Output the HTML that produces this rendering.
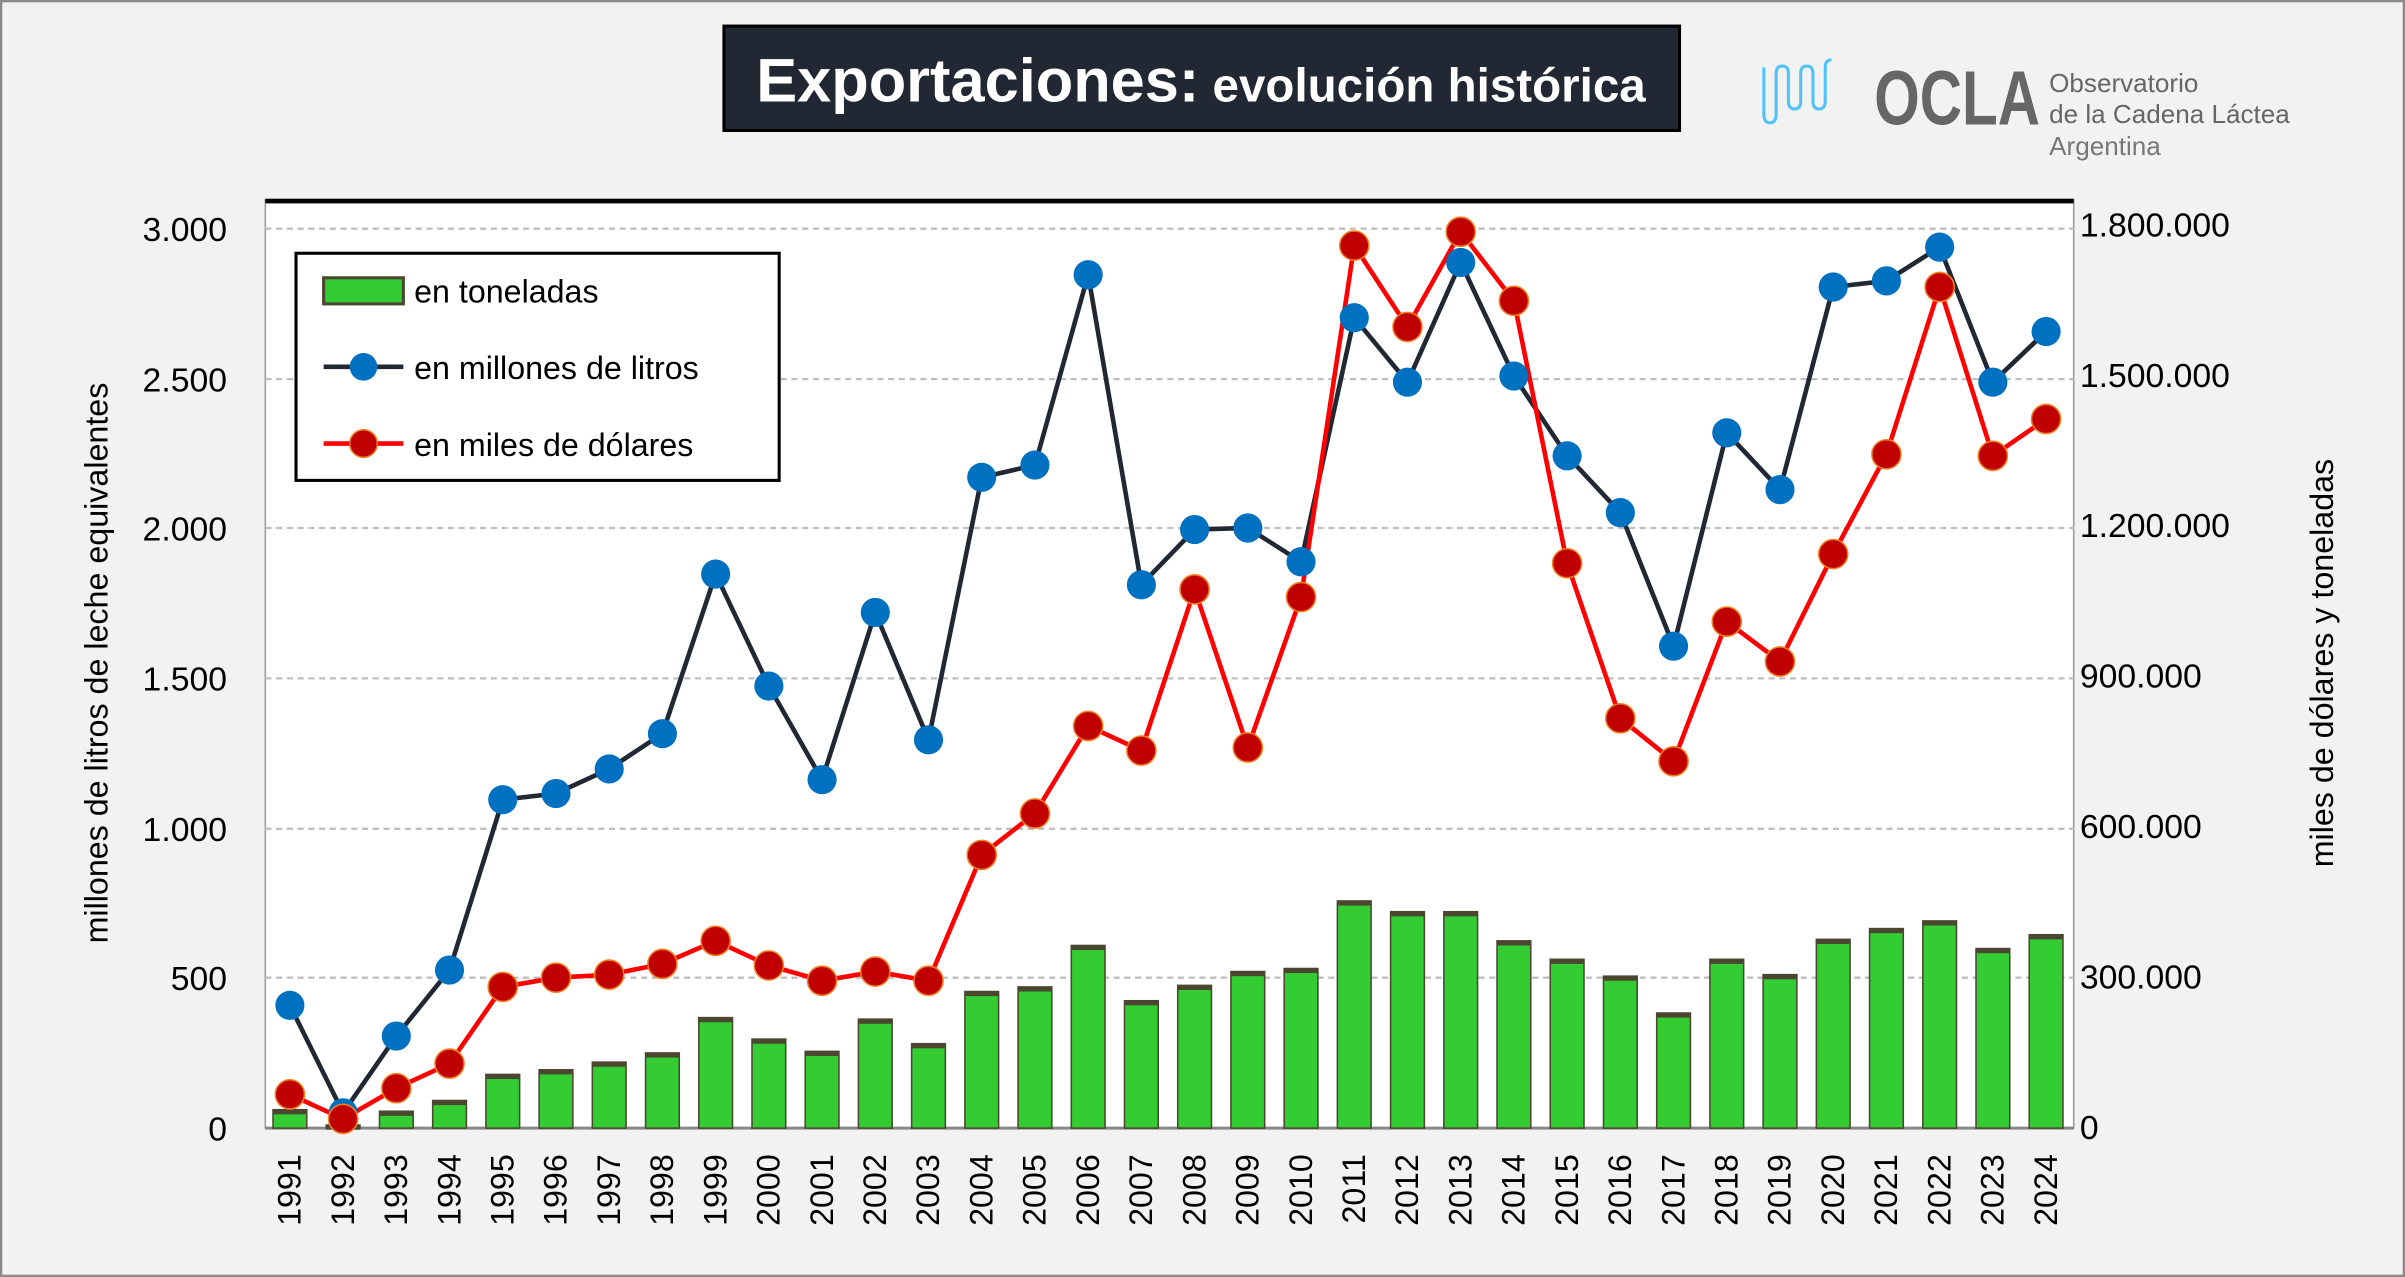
<!DOCTYPE html>
<html><head><meta charset="utf-8"><style>
html,body{margin:0;padding:0;background:#f2f2f2;}
svg{display:block;font-family:"Liberation Sans",sans-serif;}
</style></head><body>
<svg width="2405" height="1277" viewBox="0 0 1568 832" preserveAspectRatio="none" xmlns="http://www.w3.org/2000/svg">
<rect x="0.5" y="0.5" width="1567" height="831" fill="#f2f2f2" stroke="#8a8a8a" stroke-width="2"/>
<!-- title -->
<rect x="472" y="17" width="623" height="68" fill="#222833" stroke="#000" stroke-width="2"/>
<text x="783" y="66" text-anchor="middle" fill="#fff" font-weight="bold"><tspan font-size="40">Exportaciones:</tspan><tspan font-size="31"> evolución histórica</tspan></text>
<!-- logo -->
<g fill="none" stroke="#4fc3f7" stroke-width="2">
<path d="M1150 44 v30 q0 6 4 6 q4 0 4-6 v-26 q0-5 4-5 q4 0 4 5 v18 q0 5 4 5 q4 0 4-5 v-18 q0-5 4-5 q4 0 4 5 v18 q0 5 4 5 q4 0 4-5 v-22 q0-5 4-5"/>
</g>
<text x="1222" y="81" font-size="50" font-weight="bold" fill="#666" textLength="108" lengthAdjust="spacingAndGlyphs">OCLA</text>
<text x="1336" y="60" font-size="17" fill="#666">Observatorio</text>
<text x="1336" y="80" font-size="17" fill="#666">de la Cadena Láctea</text>
<text x="1336" y="101" font-size="17" fill="#777">Argentina</text>
<!-- plot -->
<rect x="173" y="130" width="1179" height="605" fill="#fff" stroke="#999" stroke-width="1"/>
<line x1="173" y1="131" x2="1352" y2="131" stroke="#000" stroke-width="3"/>
<g stroke="#bfbfbf" stroke-width="1.5" stroke-dasharray="4,3">
<line x1="173" y1="149" x2="1352" y2="149"/><line x1="173" y1="247" x2="1352" y2="247"/>
<line x1="173" y1="344" x2="1352" y2="344"/><line x1="173" y1="442" x2="1352" y2="442"/>
<line x1="173" y1="540" x2="1352" y2="540"/><line x1="173" y1="637" x2="1352" y2="637"/>
</g>
<line x1="173" y1="735" x2="1352" y2="735" stroke="#888" stroke-width="2"/>
<g font-size="22" fill="#000" text-anchor="end">
<text x="148" y="157">3.000</text><text x="148" y="255">2.500</text><text x="148" y="352">2.000</text>
<text x="148" y="450">1.500</text><text x="148" y="548">1.000</text><text x="148" y="645">500</text><text x="148" y="743">0</text>
</g>
<g font-size="22" fill="#000">
<text x="1356" y="154">1.800.000</text><text x="1356" y="252">1.500.000</text><text x="1356" y="350">1.200.000</text>
<text x="1356" y="448">900.000</text><text x="1356" y="546">600.000</text><text x="1356" y="644">300.000</text><text x="1356" y="742">0</text>
</g>
<text transform="translate(70,432) rotate(-90)" text-anchor="middle" font-size="21">millones de litros de leche equivalentes</text>
<text transform="translate(1521,432) rotate(-90)" text-anchor="middle" font-size="21">miles de dólares y toneladas</text>
<g id="bars"></g><g id="lines"></g><g id="xl"></g>
<!-- legend -->
<rect x="193" y="165" width="315" height="148" fill="#fff" stroke="#000" stroke-width="2"/>
<rect x="211" y="181" width="52" height="17" fill="#33cc33" stroke="#4a4630" stroke-width="2"/>
<text x="270" y="197" font-size="21">en toneladas</text>
<line x1="211" y1="239" x2="263" y2="239" stroke="#222833" stroke-width="3"/>
<circle cx="237" cy="239" r="9" fill="#0070c0"/>
<text x="270" y="247" font-size="21">en millones de litros</text>
<line x1="211" y1="289" x2="263" y2="289" stroke="#ff0000" stroke-width="3"/>
<circle cx="237" cy="289" r="9" fill="#c00000" stroke="#f08020" stroke-width="1"/>
<text x="270" y="297" font-size="21">en miles de dólares</text>
</svg>
<script>
const NS="http://www.w3.org/2000/svg";
const blue=[655,725,675,632,521,517,501,478,374,447,508,399,482,311,303,179,381,345,344,366,207,249,171,245,297,334,421,282,319,187,183,161,249,216];
const red=[713,729,709,693,643,637,635,628,613,629,639,633,639,557,530,473,489,384,487,389,160,213,151,196,367,468,496,405,431,361,296,187,297,273];
const bars=[723,733,724,717,700,697,692,686,663,677,685,664,680,646,643,616,652,642,633,631,587,594,594,613,625,636,660,625,635,612,605,600,618,609];
const X=i=>189+i*(1334-189)/33;
const mk=(t,a,p)=>{const e=document.createElementNS(NS,t);for(const k in a)e.setAttribute(k,a[k]);p.appendChild(e);return e;};
const gb=document.getElementById('bars'),gl=document.getElementById('lines'),gx=document.getElementById('xl');
bars.forEach((y,i)=>{mk('rect',{x:X(i)-11,y:y,width:22,height:735-y,fill:'#33cc33',stroke:'#4a4630','stroke-width':1},gb);
 mk('rect',{x:X(i)-11,y:y,width:22,height:3,fill:'#4a4630'},gb);
 const t=mk('text',{transform:`translate(${X(i)+7},752) rotate(-90)`,'text-anchor':'end','font-size':21},gx);t.textContent=1991+i;});
mk('polyline',{points:blue.map((y,i)=>X(i)+','+y).join(' '),fill:'none',stroke:'#222833','stroke-width':3},gl);
mk('polyline',{points:red.map((y,i)=>X(i)+','+y).join(' '),fill:'none',stroke:'#ff0000','stroke-width':3},gl);
blue.forEach((y,i)=>mk('circle',{cx:X(i),cy:y,r:9.5,fill:'#0070c0'},gl));
red.forEach((y,i)=>mk('circle',{cx:X(i),cy:y,r:9.5,fill:'#c00000',stroke:'#f08020','stroke-width':1},gl));
</script>
</body></html>
